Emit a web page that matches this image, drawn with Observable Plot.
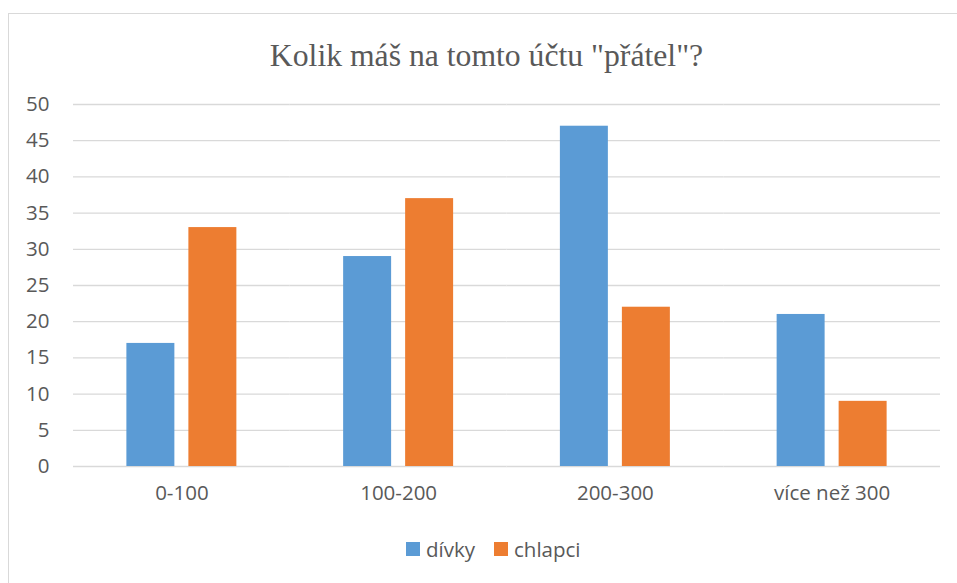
<!DOCTYPE html>
<html><head><meta charset="utf-8">
<script src="https://cdn.jsdelivr.net/npm/d3@7"></script>
<script src="https://cdn.jsdelivr.net/npm/@observablehq/plot@0.6"></script>
<style>
body{margin:0;background:#fff;}
#wrap{position:relative;width:957px;height:583px;overflow:hidden;font-family:"Open Sans",sans-serif;color:#595959;}
#frame{position:absolute;left:8px;top:13px;width:1000px;height:1000px;border:1.3px solid #d9d9d9;box-sizing:border-box;}
#title{position:absolute;left:0;width:973px;top:38px;text-align:center;font-family:"Liberation Serif","Times New Roman",serif;font-size:31.7px;color:#595959;white-space:nowrap;}
#chart{position:absolute;left:0;top:80px;}
#legend{position:absolute;top:535px;left:406px;display:flex;align-items:center;font-size:20.5px;white-space:nowrap;}
.sw{display:inline-block;width:14px;height:14px;margin-right:6px;}
.item{display:flex;align-items:center;margin-right:19px;}
</style>
</head><body>
<div id="wrap">
<div id="frame"></div>
<div id="title">Kolik máš na tomto účtu "přátel"?</div>
<div id="chart"></div>
<div id="legend"></div>
</div>
<script>
const categories = ["0-100", "100-200", "200-300", "více než 300"];
const series = ["dívky", "chlapci"];
const divky = [17, 29, 47, 21];
const chlapci = [33, 37, 22, 9];
const yTicks = [0, 5, 10, 15, 20, 25, 30, 35, 40, 45, 50];
const colors = ["#5B9BD5", "#ED7D31"];

const data = [];
categories.forEach((c, i) => {
  data.push({cat: c, s: series[0], v: divky[i]});
  data.push({cat: c, s: series[1], v: chlapci[i]});
});

const chart = Plot.plot({
  width: 957,
  height: 450,
  marginLeft: 73,
  marginRight: 17,
  marginTop: 24,
  marginBottom: 64,
  style: {fontSize: "20.5px", fontFamily: "'Open Sans', sans-serif", color: "#595959", background: "transparent"},
  fx: {domain: categories, padding: 0, round: false, label: null, tickSize: 0, tickPadding: 19, axis: "bottom"},
  x: {domain: series, paddingInner: 0.226, paddingOuter: 0.861, round: false, axis: null},
  y: {domain: [0, 50], ticks: yTicks, label: null, tickSize: 0, tickPadding: 24},
  color: {domain: series, range: colors},
  marks: [
    Plot.ruleY(yTicks, {stroke: "#d9d9d9", strokeWidth: 1.3}),
    Plot.barY(data, {fx: "cat", x: "s", y: "v", fill: "s"})
  ]
});
document.getElementById("chart").appendChild(chart);

const leg = document.getElementById("legend");
series.forEach((s, i) => {
  const it = document.createElement("div");
  it.className = "item";
  const sw = document.createElement("span");
  sw.className = "sw";
  sw.style.background = colors[i];
  it.appendChild(sw);
  it.appendChild(document.createTextNode(s));
  leg.appendChild(it);
});
</script>
</body></html>
